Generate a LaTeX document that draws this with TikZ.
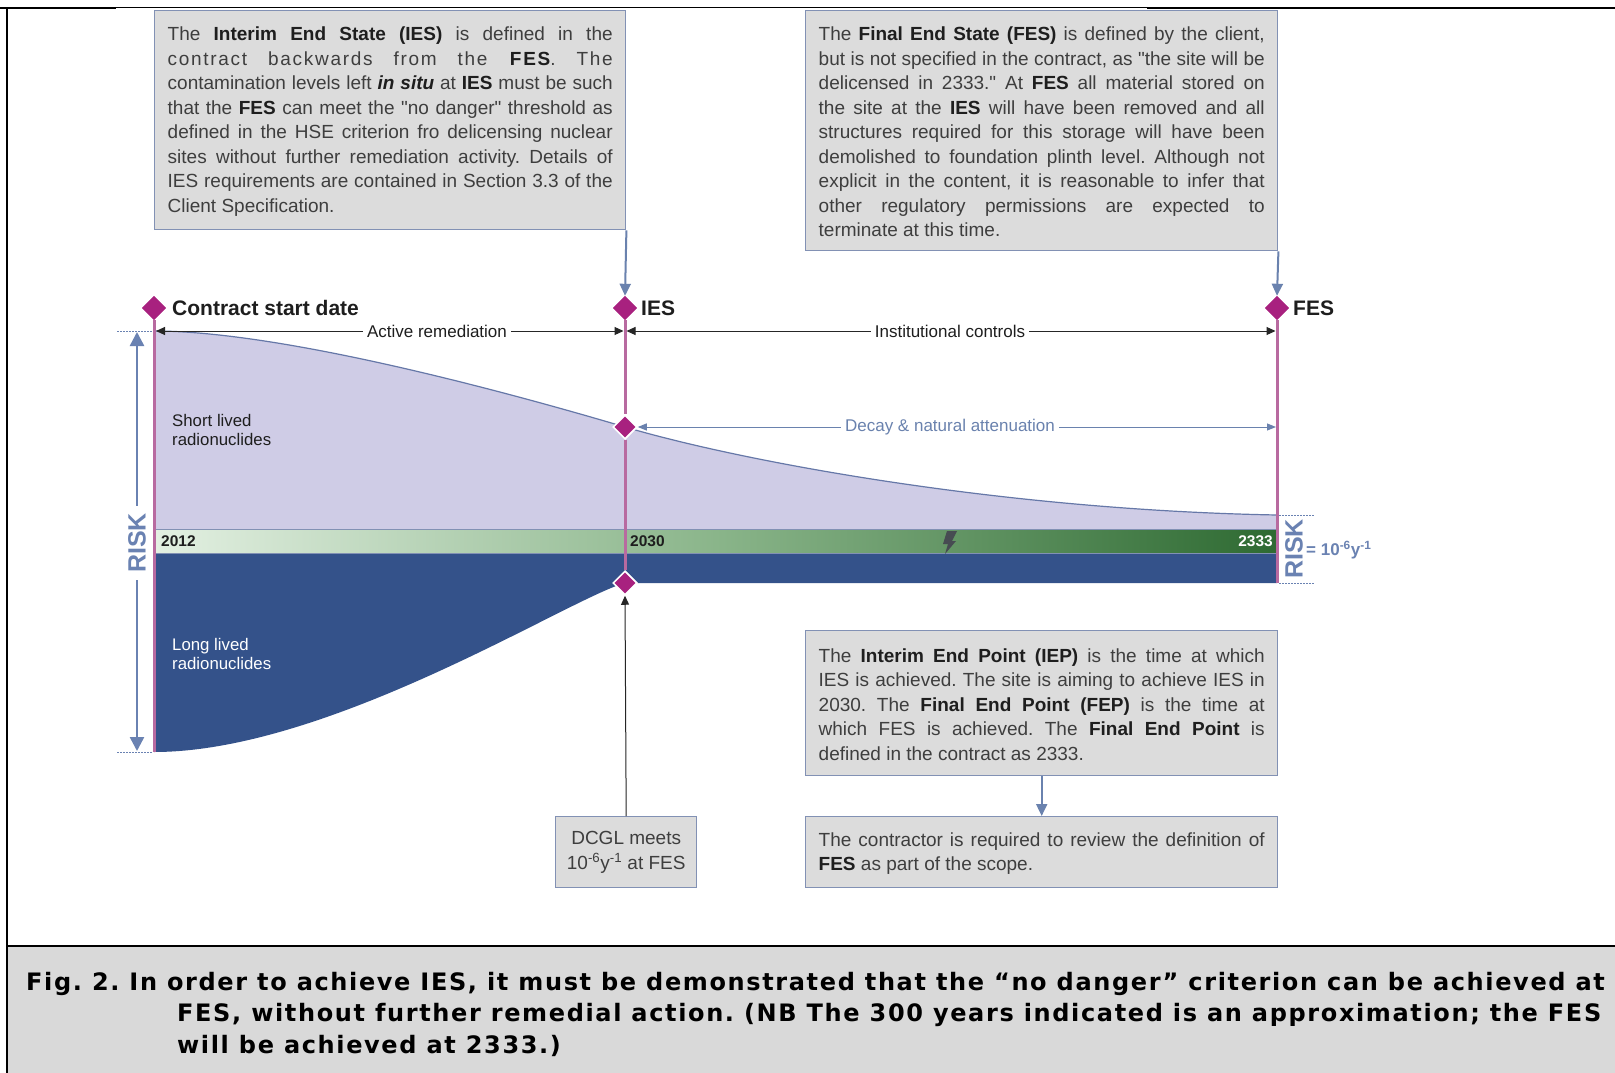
\documentclass[tikz,border=0pt]{standalone}
\usepackage{fontspec}
\setmainfont{Liberation Sans}[Ligatures=TeXOff]
\newfontfamily\capfont{DejaVu Sans}[LetterSpace=6.8]
\usetikzlibrary{shapes.geometric,arrows.meta}
\definecolor{diaC}{HTML}{A8217F}
\definecolor{pinkl}{HTML}{B86AA0}
\definecolor{lav}{HTML}{CFCCE6}
\definecolor{lavline}{HTML}{6678A8}
\definecolor{navy}{HTML}{34528A}
\definecolor{gL}{HTML}{E3F0E2}
\definecolor{gM}{HTML}{8AB58A}
\definecolor{gR}{HTML}{2E6A32}
\definecolor{boxfill}{HTML}{DCDCDC}
\definecolor{boxline}{HTML}{8291B4}
\definecolor{txt}{HTML}{3E3E3E}
\definecolor{txtb}{HTML}{1E1E1E}
\definecolor{barr}{HTML}{6A82AE}
\definecolor{riskc}{HTML}{6A82B2}
\definecolor{capbg}{HTML}{D9D9D9}
\definecolor{boltc}{HTML}{474C52}
\newcommand\jline[1]{\hbox to\hsize{#1}}
\newcommand\lline[1]{\hbox{#1}}
\newcommand\bt[1]{\textbf{\color{txtb}#1}}
\frenchspacing
\begin{document}
\begin{tikzpicture}[x=1pt,y=-1pt,
 tbox/.style={draw=boxline,line width=1.4pt,fill=boxfill,inner xsep=13pt,inner ysep=0pt,anchor=north west,text=txt,font=\fontsize{19}{24.5}\selectfont},
 diam/.style={diamond,fill=diaC,minimum width=24pt,minimum height=24pt,inner sep=0pt},
 diamw/.style={diam,draw=white,line width=1.5pt},
 pinkline/.style={draw=pinkl,line width=3pt},
 barrow/.style={draw=barr,line width=2pt,-{Triangle[length=12pt,width=11pt]}},
 darrow/.style={draw=barr,line width=1pt,-{Triangle[length=9pt,width=7pt]}},
 karrow/.style={draw=black!85,line width=1pt,-{Triangle[length=9pt,width=8pt]}},
 rarrow/.style={draw=riskc,line width=2.5pt,-{Triangle[length=14pt,width=14pt]}},
 dotl/.style={draw=riskc,line width=1pt,dash pattern=on 1.5pt off 1.5pt},
 biglbl/.style={anchor=west,inner sep=0pt,text=txtb,font=\bfseries\fontsize{21}{21}\selectfont},
 dimlbl/.style={inner sep=4pt,text=txtb,font=\fontsize{17}{17}\selectfont},
 yearlbl/.style={inner sep=0pt,font=\bfseries\fontsize{15.5}{15.5}\selectfont},
 risklbl/.style={rotate=90,inner sep=7pt,text=riskc,font=\bfseries\fontsize{25}{25}\selectfont},
]
\useasboundingbox (0,0) rectangle (1615,1073);
\clip (0,0) rectangle (1615,1073);
\fill[white] (0,0) rectangle (1615,1073);
% frame and caption area
\fill[capbg] (7,946) rectangle (1615,1073);
\draw[line width=1pt] (0,8) -- (1615,8);
\draw[line width=2.5pt] (0,8) -- (116,8);
\draw[line width=2.5pt] (1147,8) -- (1615,8);
\draw[line width=2pt] (7,8) -- (7,1073);
\draw[line width=2.5pt] (7,946) -- (1615,946);
% regions
\fill[lav] (154,331) .. controls (280,331) and (500,390) .. (625,427)
   .. controls (740,461) and (1000,510) .. (1277,515) -- (1277,529) -- (154,529) -- cycle;
\draw[lavline,line width=1.2pt] (154,331) .. controls (280,331) and (500,390) .. (625,427)
   .. controls (740,461) and (1000,510) .. (1277,515);
\fill[navy] (154,553) -- (1277,553) -- (1277,583) -- (625,583)
   .. controls (570,598) and (330,752) .. (154,752) -- cycle;
\shade[left color=gL,right color=gR,middle color=gM] (154,529) rectangle (1277,553);
\draw[boxline,line width=0.8pt] (154,529) -- (1277,529) (154,553) -- (1277,553);
\fill[boltc] (947,531) -- (957,531) -- (952,541) -- (956,541) -- (945,554) -- (948,544) -- (943,544) -- cycle;
% year labels
\node[yearlbl,anchor=west,text=txtb] (y1) at (161,541) {2012};
\node[yearlbl,anchor=west,text=txtb] (y2) at (630,541) {2030};
\node[yearlbl,anchor=east,text=white] (y3) at (1273,541) {2333};
% region labels
\node[anchor=north west,inner sep=0pt,align=left,text=txtb,font=\fontsize{16.8}{19.5}\selectfont] (slr) at (172,414) {Short lived\\radionuclides};
\node[anchor=north west,inner sep=0pt,align=left,text=white,font=\fontsize{16.8}{19.5}\selectfont] (llr) at (172,638) {Long lived\\radionuclides};
% diamonds
\node[diam] (startD) at (154,308) {};
\node[diam] (iesD) at (625,308) {};
\node[diam] (fesD) at (1277,308) {};
\node[diamw] (midD) at (625,427) {};
\node[diamw] (lowD) at (625,583) {};
\coordinate (startBot) at (154,752);
\coordinate (fesBot) at (1277,583);
\draw[pinkline] (startD.south) -- (startBot);
\draw[pinkline] (iesD.south) -- (midD.north);
\draw[pinkline] (midD.south) -- (lowD.north);
\draw[pinkline] (fesD.south) -- (fesBot);
\node[diam] at (154,308) {};
\node[diam] at (625,308) {};
\node[diam] at (1277,308) {};
\node[diamw] at (625,427) {};
\node[diamw] at (625,583) {};
% top labels
\node[biglbl] (csd) at (172,308) {Contract start date};
\node[biglbl] (iesL) at (641,308) {IES};
\node[biglbl] (fesL) at (1293,308) {FES};
% dimension arrows
\coordinate (dS) at (156,331);
\coordinate (dI1) at (623.5,331);
\coordinate (dI2) at (626.5,331);
\coordinate (dF) at (1275.5,331);
\node[dimlbl] (act) at (437,331) {Active remediation};
\node[dimlbl] (inst) at (950,331) {Institutional controls};
\draw[karrow] (act.west) -- (dS);
\draw[karrow] (act.east) -- (dI1);
\draw[karrow] (inst.west) -- (dI2);
\draw[karrow] (inst.east) -- (dF);
\coordinate (decF) at (1276,427);
\node[dimlbl,text=barr] (dec) at (950,427) {Decay \& natural attenuation};
\draw[darrow] (dec.west) -- (midD.east);
\draw[darrow] (dec.east) -- (decF);
% RISK left
\node[risklbl] (riskL) at (137,543) {RISK};
\coordinate (rTop) at (137,332);
\coordinate (rBot) at (137,751);
\draw[rarrow] (riskL.east) -- (rTop);
\draw[rarrow] (riskL.west) -- (rBot);
\coordinate (dl1a) at (117,331); \coordinate (dl1b) at (152,331);
\coordinate (dl2a) at (117,752); \coordinate (dl2b) at (152,752);
\draw[dotl] (dl1a) -- (dl1b);
\draw[dotl] (dl2a) -- (dl2b);
% RISK right
\node[risklbl,inner sep=0pt] (riskR) at (1294,549) {RISK};
\node[anchor=west,inner sep=0pt,text=riskc,font=\bfseries\fontsize{17}{17}\selectfont] (eq) at (1306,550) {= 10\textsuperscript{-6}y\textsuperscript{-1}};
\coordinate (dr1a) at (1279,515); \coordinate (dr1b) at (1315,515);
\coordinate (dr2a) at (1279,583); \coordinate (dr2b) at (1315,583);
\draw[dotl] (dr1a) -- (dr1b);
\draw[dotl] (dr2a) -- (dr2b);
% text boxes
\node[tbox,minimum width=471pt,minimum height=219pt] (iesbox) at (154,10) {\vbox{\hsize=445pt\kern3pt
\jline{The \bt{Interim End State (IES)} is defined in the}
\jline{\addfontfeature{LetterSpace=9}contract backwards from the \bt{FES}. The}
\jline{contamination levels left \bt{\textit{in situ}} at \bt{IES} must be such}
\jline{that the \bt{FES} can meet the "no danger" threshold as}
\jline{defined in the HSE criterion fro delicensing nuclear}
\jline{sites without further remediation activity. Details of}
\jline{IES requirements are contained in Section 3.3 of the}
\lline{Client Specification.}}};
\node[tbox,minimum width=472pt,minimum height=240pt] (fesbox) at (805,10) {\vbox{\hsize=446pt\kern3pt
\jline{The \bt{Final End State (FES)} is defined by the client,}
\jline{but is not specified in the contract, as "the site will be}
\jline{delicensed in 2333." At \bt{FES} all material stored on}
\jline{the site at the \bt{IES} will have been removed and all}
\jline{structures required for this storage will have been}
\jline{demolished to foundation plinth level. Although not}
\jline{explicit in the content, it is reasonable to infer that}
\jline{other regulatory permissions are expected to}
\lline{terminate at this time.}}};
\node[tbox,minimum width=472pt,minimum height=145pt] (iep) at (805,630) {\vbox{\hsize=446pt\kern3pt
\jline{The \bt{Interim End Point (IEP)} is the time at which}
\jline{IES is achieved. The site is aiming to achieve IES in}
\jline{2030. The \bt{Final End Point (FEP)} is the time at}
\jline{which FES is achieved. The \bt{Final End Point} is}
\lline{defined in the contract as 2333.}}};
\node[tbox,minimum width=472pt,minimum height=71pt] (contr) at (805,816) {\vbox{\hsize=446pt\kern3pt
\jline{The contractor is required to review the definition of}
\lline{\bt{FES} as part of the scope.}}};
\node[tbox,minimum width=141pt,minimum height=71pt,inner xsep=4pt,align=center] (dcgl) at (555,816) {DCGL meets\\10\textsuperscript{-6}y\textsuperscript{-1} at FES};
% connectors
\draw[barrow] (iesbox.south east) -- (iesD.north);
\draw[barrow] (fesbox.south east) -- (fesD.north);
\draw[barrow] (iep.south) -- (contr.north);
\draw[karrow] (dcgl.north) -- (lowD.south);
% caption
\node[anchor=base west,inner sep=0pt,text=black,font=\capfont\bfseries\fontsize{24}{31.5}\selectfont] (cap) at (26,990) {\vtop{
\hbox{Fig. 2. In order to achieve IES, it must be demonstrated that the “no danger” criterion can be achieved at}
\hbox{\kern151pt FES, without further remedial action. (NB The 300 years indicated is an approximation; the FES}
\hbox{\kern151pt will be achieved at 2333.)}}};
\end{tikzpicture}
\end{document}
